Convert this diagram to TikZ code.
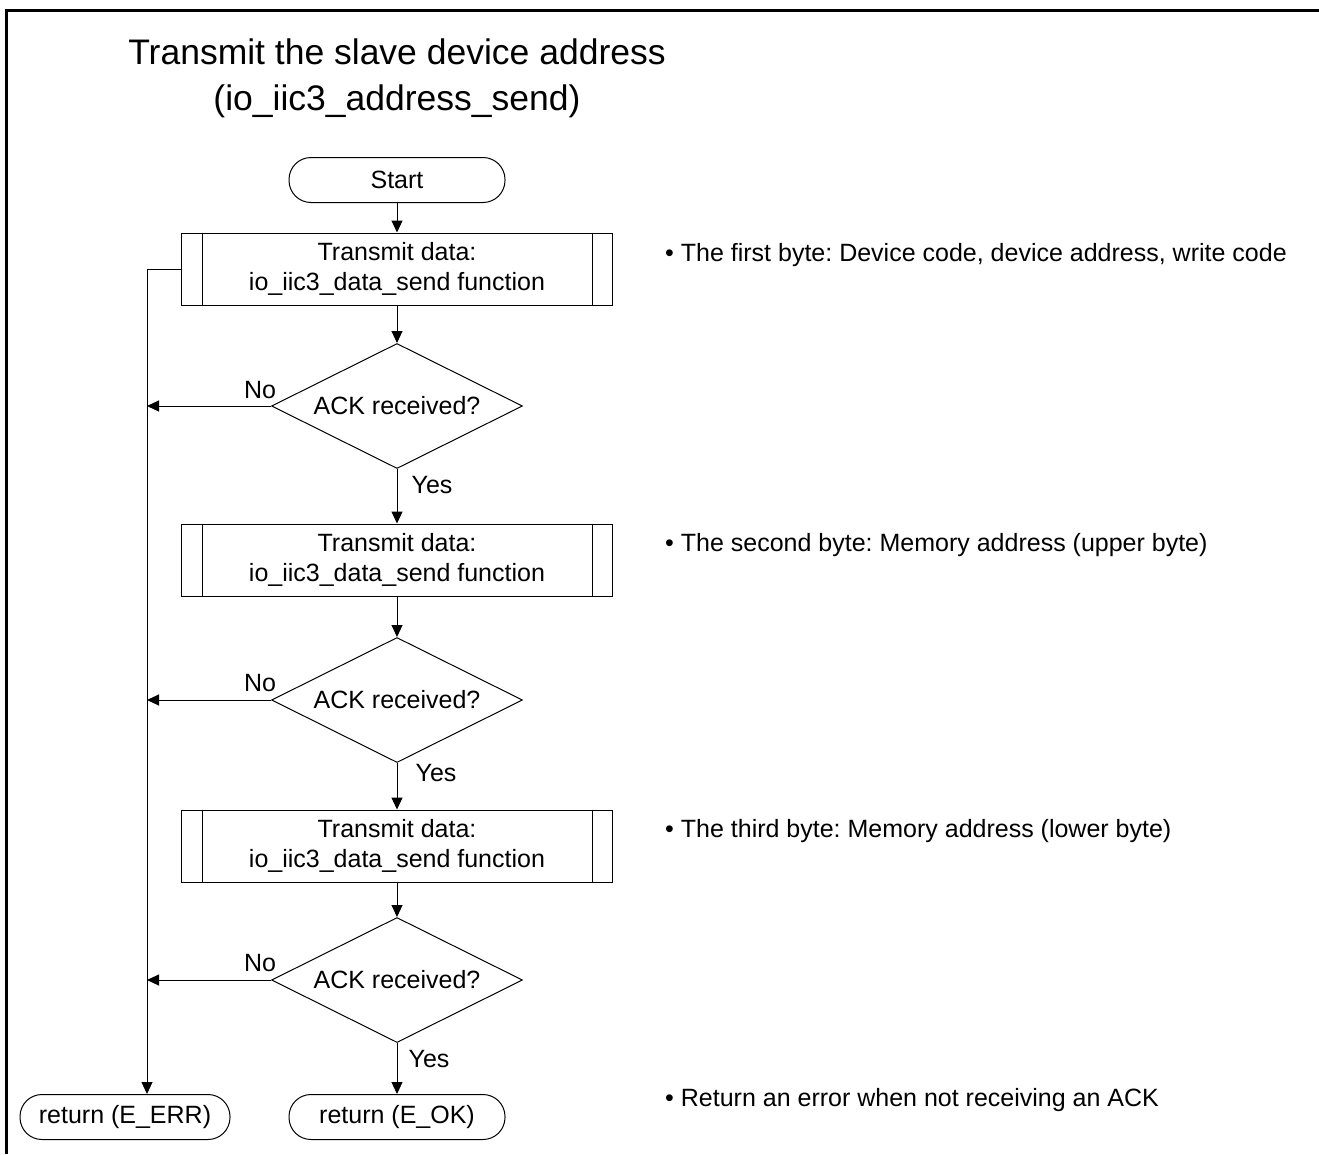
\documentclass[tikz,border=0pt]{standalone}
\usepackage{fontspec}
\setmainfont{Liberation Sans}
\usetikzlibrary{shapes.geometric,arrows.meta}
\frenchspacing

\begin{document}
\begin{tikzpicture}[x=1pt,y=-1pt,
  every node/.style={font=\fontsize{25}{30}\selectfont},
  line/.style={line width=1pt},
  flow/.style={line width=1pt,-{Triangle[length=12pt,width=11pt]}},
  terminal/.style={draw,line width=1pt,rounded corners=22pt,minimum height=45pt,inner sep=0pt},
  proc/.style={draw,line width=1pt,minimum width=431pt,minimum height=72pt,align=center,inner sep=0pt},
  decision/.style={draw,line width=1pt,diamond,aspect=2,minimum width=251pt,minimum height=125pt,inner sep=0pt},
  note/.style={anchor=west,inner sep=0pt},
  lbl/.style={inner sep=0pt},
]
\useasboundingbox (0,0) rectangle (1319,1154);

% frame
\draw[line width=3pt] (6,1154) -- (6,10) -- (1319,10);

% title
\node[align=center,font=\fontsize{35.5}{46}\selectfont] (title) at (397,78)
  {Transmit the slave device address\\(io\_iic3\_address\_send)};

% flow nodes
\node[terminal,minimum width=216pt] (start) at (397,180) {Start};
\node[proc] (p1) at (397,269) {Transmit data:\\io\_iic3\_data\_send function};
\node[decision] (d1) at (397,406) {ACK received?};
\node[proc] (p2) at (397,560) {Transmit data:\\io\_iic3\_data\_send function};
\node[decision] (d2) at (397,700) {ACK received?};
\node[proc] (p3) at (397,846) {Transmit data:\\io\_iic3\_data\_send function};
\node[decision] (d3) at (397,980) {ACK received?};
\node[terminal,minimum width=210pt] (rerr) at (125,1117) {return (E\_ERR)};
\node[terminal,minimum width=216pt] (rok) at (397,1117) {return (E\_OK)};

% predefined-process side bars
\foreach \p in {p1,p2,p3}{
  \draw[line] ([xshift=21pt]\p.north west) -- ([xshift=21pt]\p.south west);
  \draw[line] ([xshift=-21pt]\p.north east) -- ([xshift=-21pt]\p.south east);
}

% main path
\draw[flow] (start) -- (p1);
\draw[flow] (p1) -- (d1);
\draw[flow] (d1) -- (p2);
\draw[flow] (p2) -- (d2);
\draw[flow] (d2) -- (p3);
\draw[flow] (p3) -- (d3);
\draw[flow] (d3) -- (rok);

% error path
\coordinate (lb) at (147,269);
\draw[flow] (p1.west) -- (lb) -- (rerr.north -| lb);
\draw[flow] (d1.west) -- (d1.west -| lb);
\draw[flow] (d2.west) -- (d2.west -| lb);
\draw[flow] (d3.west) -- (d3.west -| lb);

% branch labels
\node[lbl] (no1) at (260,390) {No};
\node[lbl] (no2) at (260,683) {No};
\node[lbl] (no3) at (260,963) {No};
\node[lbl] (yes1) at (432,485) {Yes};
\node[lbl] (yes2) at (436,773) {Yes};
\node[lbl] (yes3) at (429,1059) {Yes};

% notes
\node[note] (n1) at (665,255) {• The first byte: Device code, device address, write code};
\node[note] (n2) at (665,545) {• The second byte: Memory address (upper byte)};
\node[note] (n3) at (665,831) {• The third byte: Memory address (lower byte)};
\node[note] (n4) at (665,1100) {• Return an error when not receiving an ACK};
\end{tikzpicture}
\end{document}
